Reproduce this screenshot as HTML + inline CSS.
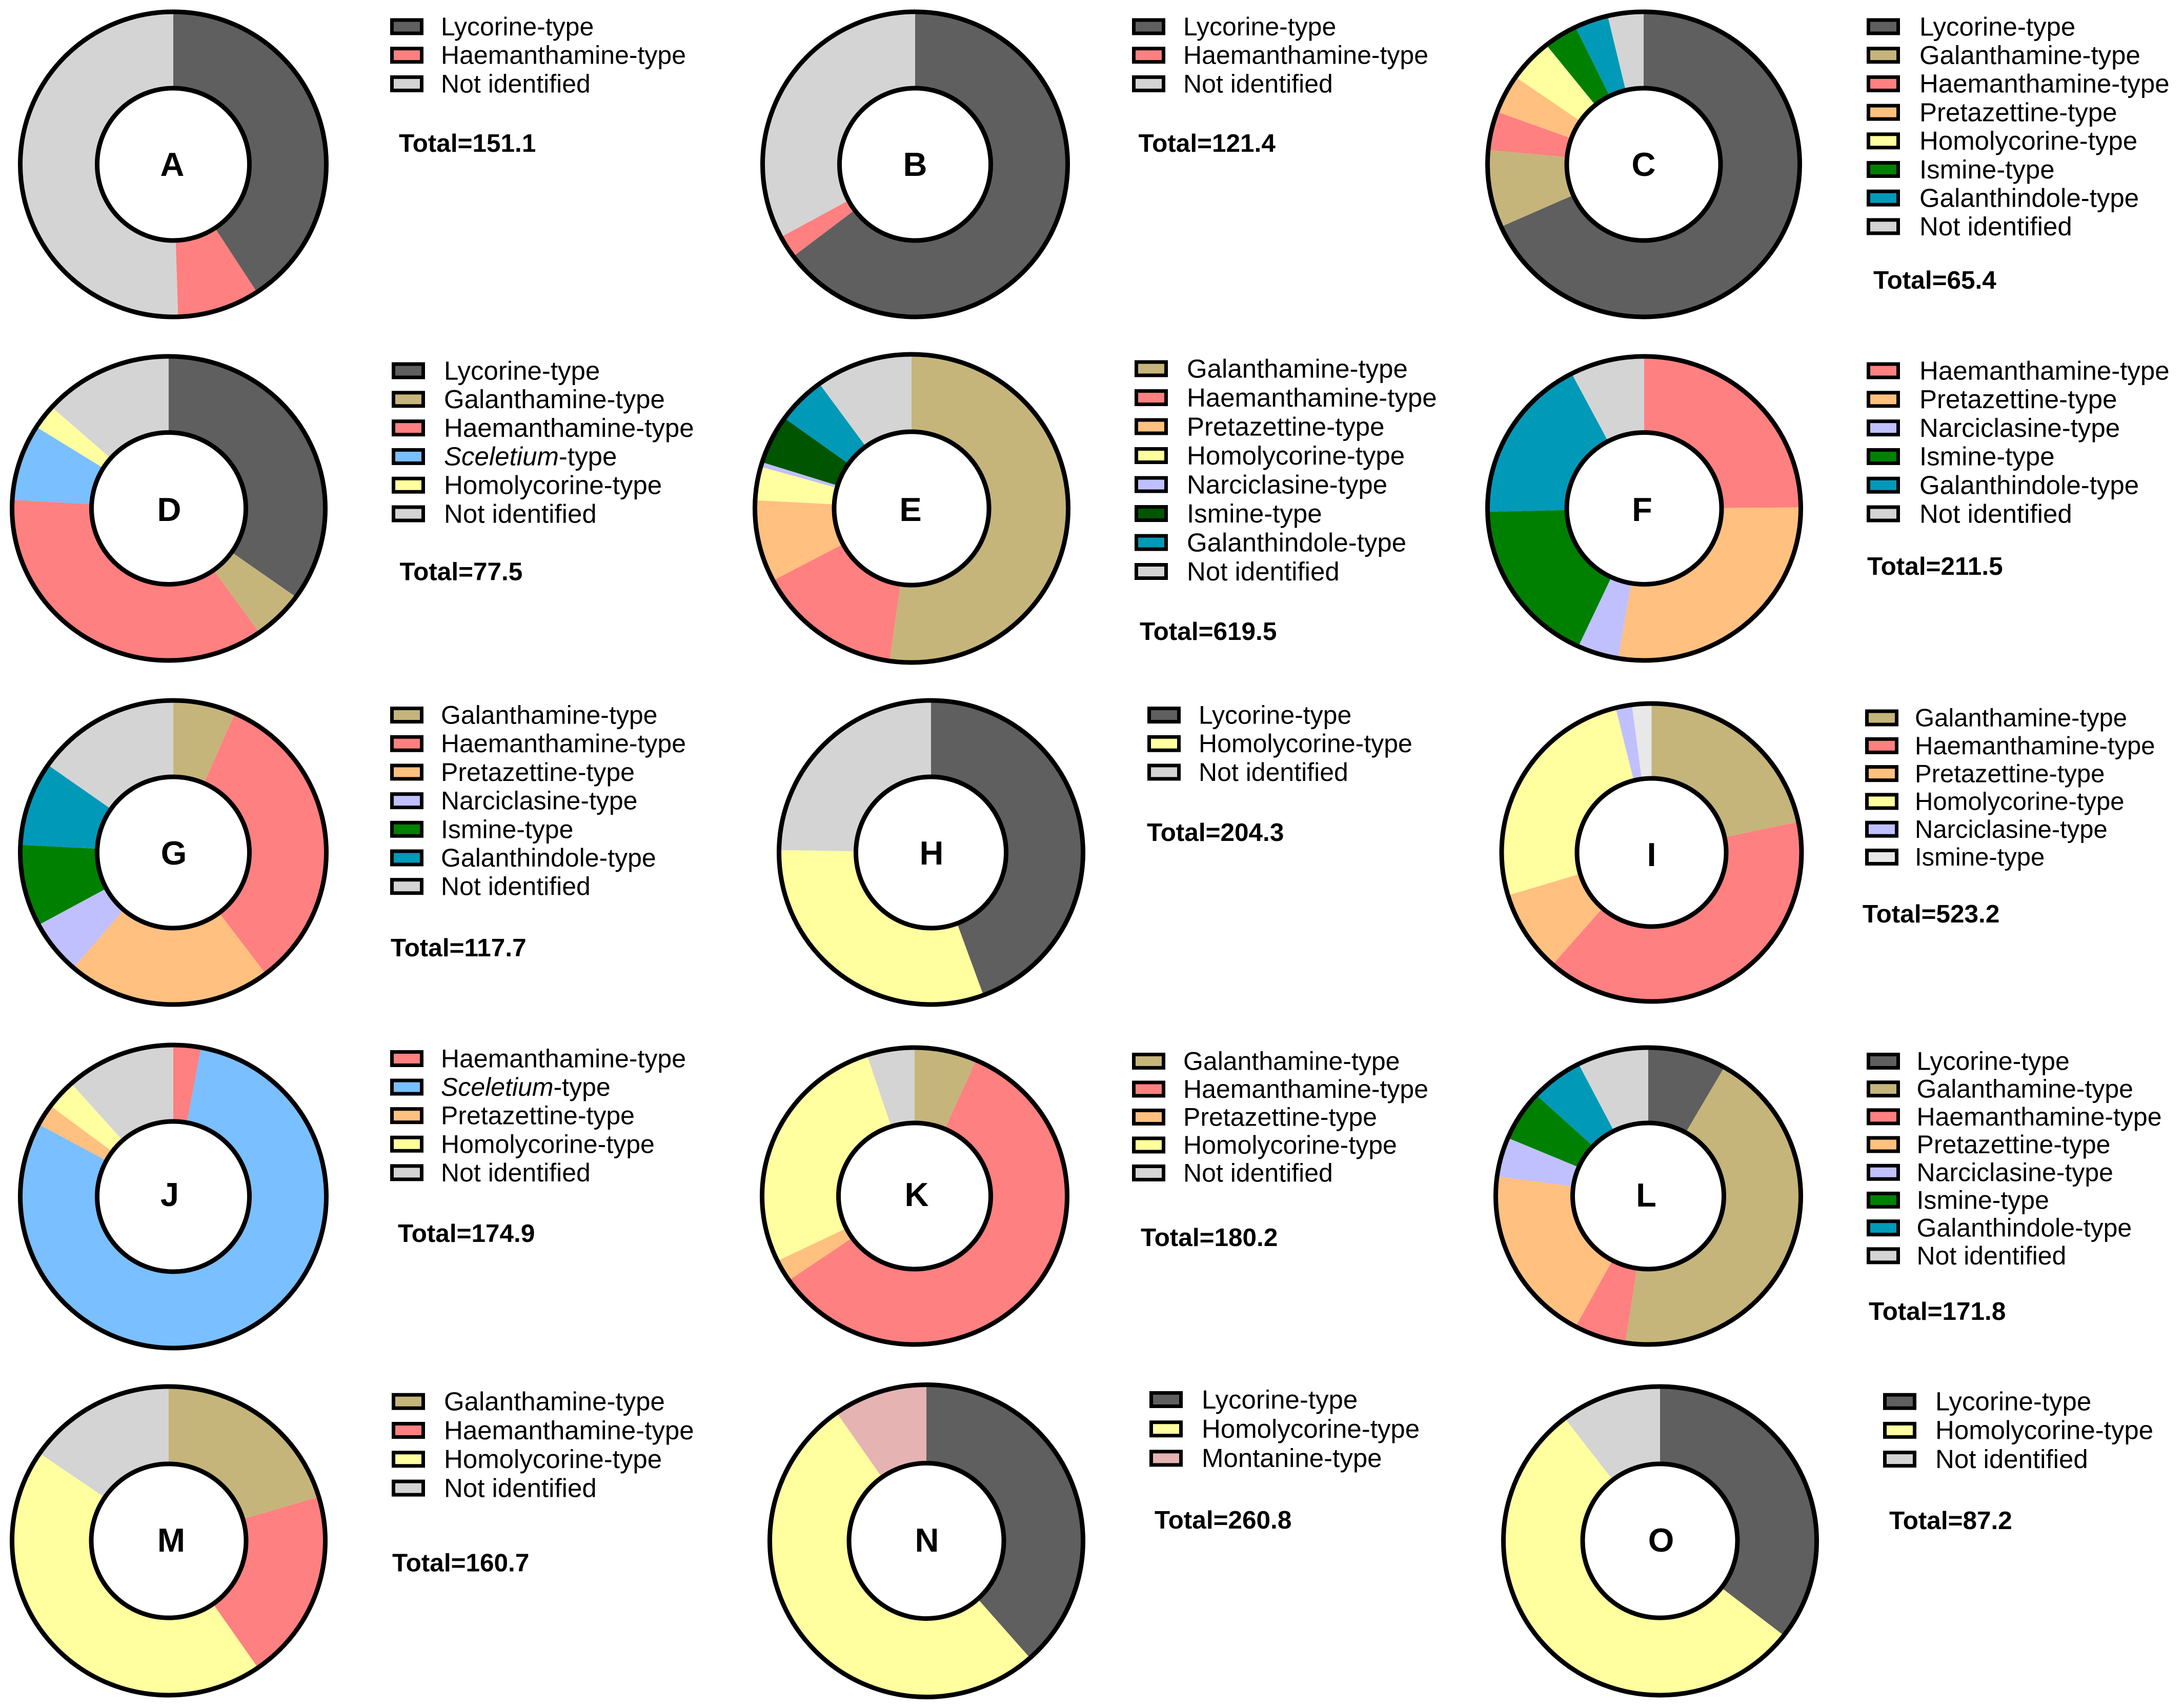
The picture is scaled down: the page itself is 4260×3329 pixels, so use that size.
<!DOCTYPE html>
<html lang="en">
<head>
<meta charset="utf-8">
<title>Alkaloid type composition donut charts</title>
<style>
html,body{margin:0;padding:0;background:#fff;width:4260px;height:3329px;overflow:hidden}
svg{display:block}
text{font-family:"Liberation Sans",sans-serif;fill:#000}
</style>
</head>
<body>
<svg id="figure" xmlns="http://www.w3.org/2000/svg" width="4260" height="3329" viewBox="0 0 4260 3329"></svg>
<script>
const categoriesA = ['Lycorine-type','Haemanthamine-type','Not identified'];
const valuesA = [40.8,8.7,50.5];
const totalA = 151.1;
const categoriesB = ['Lycorine-type','Haemanthamine-type','Not identified'];
const valuesB = [64.7,2.4,32.9];
const totalB = 121.4;
const categoriesC = ['Lycorine-type','Galanthamine-type','Haemanthamine-type','Pretazettine-type','Homolycorine-type','Ismine-type','Galanthindole-type','Not identified'];
const valuesC = [68.3,8.2,4.1,4.1,4.6,3.5,3.5,3.7];
const totalC = 65.4;
const categoriesD = ['Lycorine-type','Galanthamine-type','Haemanthamine-type','Sceletium-type','Homolycorine-type','Not identified'];
const valuesD = [34.9,5.3,35.7,8.1,2.6,13.4];
const totalD = 77.5;
const categoriesE = ['Galanthamine-type','Haemanthamine-type','Pretazettine-type','Homolycorine-type','Narciclasine-type','Ismine-type','Galanthindole-type','Not identified'];
const valuesE = [52.25,15.0,8.6,3.5,0.5,5.1,5.05,10.0];
const totalE = 619.5;
const categoriesF = ['Haemanthamine-type','Pretazettine-type','Narciclasine-type','Ismine-type','Galanthindole-type','Not identified'];
const valuesF = [24.9,27.75,4.25,17.75,17.7,7.65];
const totalF = 211.5;
const categoriesG = ['Galanthamine-type','Haemanthamine-type','Pretazettine-type','Narciclasine-type','Ismine-type','Galanthindole-type','Not identified'];
const valuesG = [6.6,33.1,21.6,5.8,8.7,8.95,15.25];
const totalG = 117.7;
const categoriesH = ['Lycorine-type','Homolycorine-type','Not identified'];
const valuesH = [44.4,30.85,24.75];
const totalH = 204.3;
const categoriesI = ['Galanthamine-type','Haemanthamine-type','Pretazettine-type','Homolycorine-type','Narciclasine-type','Ismine-type'];
const valuesI = [21.7,39.75,8.9,25.8,1.75,2.1];
const totalI = 523.2;
const categoriesJ = ['Haemanthamine-type','Sceletium-type','Pretazettine-type','Homolycorine-type','Not identified'];
const valuesJ = [2.9,80.0,2.3,3.2,11.6];
const totalJ = 174.9;
const categoriesK = ['Galanthamine-type','Haemanthamine-type','Pretazettine-type','Homolycorine-type','Not identified'];
const valuesK = [6.6,58.8,2.4,27.15,5.05];
const totalK = 180.2;
const categoriesL = ['Lycorine-type','Galanthamine-type','Haemanthamine-type','Pretazettine-type','Narciclasine-type','Ismine-type','Galanthindole-type','Not identified'];
const valuesL = [8.3,44.1,5.5,19.2,4.3,5.5,5.55,7.55];
const totalL = 171.8;
const categoriesM = ['Galanthamine-type','Haemanthamine-type','Homolycorine-type','Not identified'];
const valuesM = [20.4,19.95,44.25,15.4];
const totalM = 160.7;
const categoriesN = ['Lycorine-type','Homolycorine-type','Montanine-type'];
const valuesN = [38.5,51.8,9.7];
const totalN = 260.8;
const categoriesO = ['Lycorine-type','Homolycorine-type','Not identified'];
const valuesO = [35.5,54.1,10.4];
const totalO = 87.2;

const typeColors = {
  'Lycorine-type':'#5f5f5f','Galanthamine-type':'#c5b57b','Haemanthamine-type':'#ff8080',
  'Pretazettine-type':'#ffc080','Homolycorine-type':'#ffff9f','Ismine-type':'#008000',
  'Galanthindole-type':'#009ab8','Not identified':'#d4d4d4','Narciclasine-type':'#c0c0ff',
  'Sceletium-type':'#7abfff','Montanine-type':'#e6b3b3'
};

const panels = [
 {id:'A',cats:categoriesA,vals:valuesA,total:totalA,cx:338,cy:320.5,rx:303,ry:302,irx:153,iry:153,lx:761,ly:52,pitch:55.7,tx:860,fs:50,totX:778,totY:296,labX:336,labY:343},
 {id:'B',cats:categoriesB,vals:valuesB,total:totalB,cx:1785,cy:320.5,rx:302,ry:302,irx:152,iry:153,lx:2208,ly:52,pitch:55.7,tx:2308,fs:50,totX:2220.5,totY:296,labX:1785,labY:343},
 {id:'C',cats:categoriesC,vals:valuesC,total:totalC,cx:3206,cy:320.5,rx:309,ry:302,irx:154.5,iry:153,lx:3641,ly:52,pitch:55.7,tx:3744,fs:51,totX:3654,totY:563,labX:3206,labY:343},
 {id:'D',cats:categoriesD,vals:valuesD,total:totalD,cx:329,cy:991.5,rx:310,ry:301,irx:155,iry:152.5,lx:764,ly:723,pitch:55.8,tx:866,fs:51,totX:779.5,totY:1131.5,labX:330,labY:1016},
 {id:'E',cats:categoriesE,vals:valuesE,total:totalE,cx:1778,cy:991.5,rx:310,ry:305,irx:155.5,iry:154,lx:2213,ly:719,pitch:56.5,tx:2315,fs:51,totX:2223,totY:1248,labX:1776,labY:1016,colorOverride:{'Ismine-type':'#005500'}},
 {id:'F',cats:categoriesF,vals:valuesF,total:totalF,cx:3207,cy:991.5,rx:310,ry:301,irx:155.5,iry:152.5,lx:3641,ly:723,pitch:55.8,tx:3744,fs:51,totX:3642,totY:1121,labX:3203,labY:1016},
 {id:'G',cats:categoriesG,vals:valuesG,total:totalG,cx:338,cy:1662.5,rx:303,ry:301,irx:153,iry:152,lx:761,ly:1394.5,pitch:55.7,tx:860,fs:50,totX:762,totY:1865,labX:339,labY:1686},
 {id:'H',cats:categoriesH,vals:valuesH,total:totalH,cx:1816,cy:1662.5,rx:301,ry:301,irx:151,iry:152,lx:2238,ly:1394.5,pitch:55.7,tx:2338,fs:50,totX:2237,totY:1640,labX:1817,labY:1686},
 {id:'I',cats:categoriesI,vals:valuesI,total:totalI,cx:3221.5,cy:1662.5,rx:297,ry:295,irx:150,iry:149,lx:3638,ly:1400,pitch:54.3,tx:3735,fs:49,totX:3633,totY:1799,labX:3221.5,labY:1689,colorOverride:{'Ismine-type':'#e8e8e8'}},
 {id:'J',cats:categoriesJ,vals:valuesJ,total:totalJ,cx:338,cy:2333.5,rx:303,ry:300,irx:153,iry:151,lx:761,ly:2064.5,pitch:55.6,tx:860,fs:50,totX:776,totY:2422,labX:331,labY:2352},
 {id:'K',cats:categoriesK,vals:valuesK,total:totalK,cx:1784,cy:2332.5,rx:302,ry:294,irx:153,iry:147,lx:2208,ly:2069.5,pitch:54.5,tx:2308,fs:50,totX:2225,totY:2430,labX:1788,labY:2352},
 {id:'L',cats:categoriesL,vals:valuesL,total:totalL,cx:3215,cy:2332.5,rx:302,ry:294,irx:152,iry:147,lx:3641,ly:2069.5,pitch:54.2,tx:3738.5,fs:50,totX:3645,totY:2574,labX:3211,labY:2353},
 {id:'M',cats:categoriesM,vals:valuesM,total:totalM,cx:329,cy:3005,rx:310,ry:305.5,irx:155.5,iry:154.6,lx:764,ly:2733.2,pitch:56.3,tx:866,fs:51,totX:765,totY:3064.5,labX:334,labY:3026},
 {id:'N',cats:categoriesN,vals:valuesN,total:totalN,cx:1807,cy:3005,rx:310,ry:309,irx:155.5,iry:156,lx:2242,ly:2729.5,pitch:57.2,tx:2344,fs:51,totX:2252,totY:2981,labX:1808,labY:3026},
 {id:'O',cats:categoriesO,vals:valuesO,total:totalO,cx:3238,cy:3005,rx:310,ry:305.5,irx:155.5,iry:154.6,lx:3673,ly:2733.2,pitch:56.2,tx:3775,fs:51,totX:3685,totY:2982,labX:3240,labY:3026}
];

const NS = 'http://www.w3.org/2000/svg';
const STROKE = 9;
const figure = document.getElementById('figure');

function make(tag, attrs, parent){
  const el = document.createElementNS(NS, tag);
  for (const k in attrs) el.setAttribute(k, attrs[k]);
  parent.appendChild(el);
  return el;
}
function angleScale(cumulative, sum){
  return cumulative / sum * 2 * Math.PI;
}
function slug(s){
  return s.toLowerCase().replace(/[^a-z]+/g, '-');
}

panels.forEach(function(p){
  const group = make('g', {}, figure);
  
  

  const Rx = p.rx - STROKE / 2, Ry = p.ry - STROKE / 2;
  const sum = p.vals.reduce(function(a, b){ return a + b; }, 0);
  let acc = 0;
  p.vals.forEach(function(v, i){
    const a0 = angleScale(acc, sum);
    acc += v;
    const a1 = angleScale(acc, sum);
    const x0 = p.cx + Rx * Math.sin(a0), y0 = p.cy - Ry * Math.cos(a0);
    const x1 = p.cx + Rx * Math.sin(a1), y1 = p.cy - Ry * Math.cos(a1);
    const large = (a1 - a0) > Math.PI ? 1 : 0;
    const cat = p.cats[i];
    const color = (p.colorOverride && p.colorOverride[cat]) || typeColors[cat];
    const slice = make('path', {
      d: 'M' + p.cx + ' ' + p.cy + 'L' + x0 + ' ' + y0 + 'A' + Rx + ' ' + Ry + ' 0 ' + large + ' 1 ' + x1 + ' ' + y1 + 'Z',
      fill: color
    }, group);
    
    
  });

  const outline = make('ellipse', {cx:p.cx, cy:p.cy, rx:Rx, ry:Ry, fill:'none', stroke:'#000', 'stroke-width':STROKE}, group);
  
  

  const hole = make('ellipse', {cx:p.cx, cy:p.cy, rx:p.irx - STROKE / 2, ry:p.iry - STROKE / 2, fill:'#fff', stroke:'#000', 'stroke-width':STROKE}, group);
  
  

  const label = make('text', {x:p.labX, y:p.labY, 'text-anchor':'middle', 'font-size':65, 'font-weight':'bold'}, group);
  label.textContent = p.id;
  
  

  p.cats.forEach(function(cat, i){
    const cy = p.ly + i * p.pitch;
    const color = (p.colorOverride && p.colorOverride[cat]) || typeColors[cat];
    const swatch = make('rect', {x:p.lx + 3.5, y:cy - 13, width:58, height:26, fill:color, stroke:'#000', 'stroke-width':7}, group);
    
    

    const text = make('text', {x:p.tx, y:cy + p.fs * 0.34, 'font-size':p.fs}, group);
    
    
    if (cat.indexOf('Sceletium') === 0) {
      const it = make('tspan', {'font-style':'italic'}, text);
      it.textContent = 'Sceletium';
      const rest = make('tspan', {}, text);
      rest.textContent = '-type';
    } else {
      text.textContent = cat;
    }
  });

  const total = make('text', {x:p.totX, y:p.totY, 'font-size':49.5, 'font-weight':'bold'}, group);
  total.textContent = 'Total=' + p.total.toFixed(1);
  
  
});
</script>
</body>
</html>
